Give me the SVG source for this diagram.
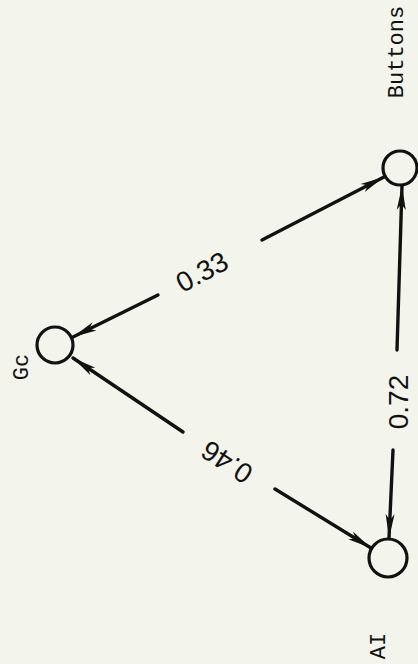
<svg xmlns="http://www.w3.org/2000/svg" width="418" height="664" viewBox="0 0 418 664">
<style>
.node{fill:none;stroke:#111;stroke-width:3.2}
.edge{fill:none;stroke:#111;stroke-width:3.4;stroke-linecap:round}
.name{font-family:"Liberation Mono","DejaVu Sans Mono",monospace;font-size:22px;fill:#111;text-anchor:middle}
.w{font-family:"Liberation Sans","DejaVu Sans",sans-serif;font-size:28px;fill:#111;text-anchor:middle;dominant-baseline:central}
</style>
<defs>
<marker id="ah" markerUnits="userSpaceOnUse" markerWidth="26" markerHeight="12" refX="24" refY="6" orient="auto">
<path d="M0,1.5 L24,6 L0,10.5 L6,6 z" fill="#111"/>
</marker>
</defs>
<rect width="418" height="664" fill="#f3f4ec"/>
<g id="connectors">
<path class="edge" d="M262,240 L384,177" marker-end="url(#ah)"/>
<path class="edge" d="M158,295 L73,337" marker-end="url(#ah)"/>
<path class="edge" d="M183,432 L73,358" marker-end="url(#ah)"/>
<path class="edge" d="M275,489 L371,548" marker-end="url(#ah)"/>
<path class="edge" d="M397,350 L402,186" marker-end="url(#ah)"/>
<path class="edge" d="M393,450 L389,538" marker-end="url(#ah)"/>
<text class="w" transform="translate(202,272) rotate(-28)">0.33</text>
<text class="w" transform="translate(227,462) rotate(-147)">0.46</text>
<text class="w" transform="translate(398,402) rotate(-90)">0.72</text>
</g>
<g id="node-gc">
<circle class="node" cx="55" cy="345" r="18"/>
<text class="name" transform="translate(28,367) rotate(-90)">Gc</text>
</g>
<g id="node-buttons">
<circle class="node" cx="400" cy="168" r="17"/>
<text class="name" transform="translate(403,52) rotate(-90)">Buttons</text>
</g>
<g id="node-ai">
<circle class="node" cx="388" cy="558" r="19"/>
<text class="name" transform="translate(385,646) rotate(-90)">AI</text>
</g>
</svg>
